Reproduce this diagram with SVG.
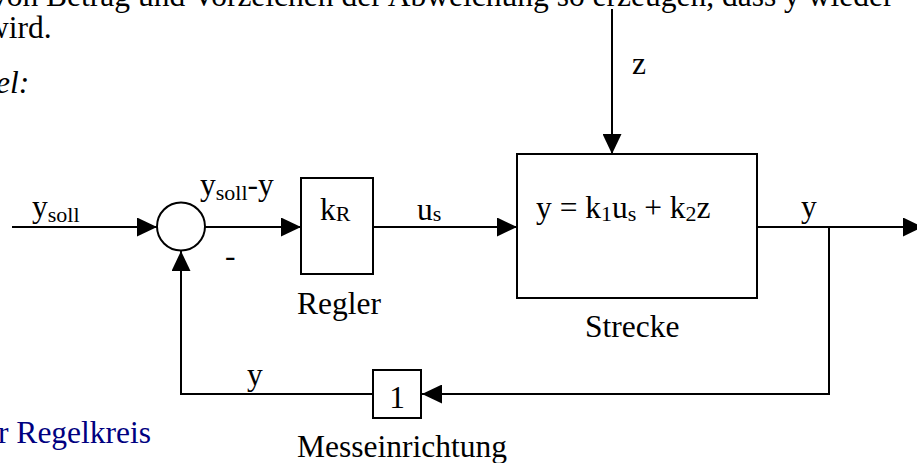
<svg xmlns="http://www.w3.org/2000/svg" width="917" height="463" viewBox="0 0 917 463">
<style>
text{font-family:"Liberation Serif","Times New Roman",serif;font-size:31.5px;fill:#000}
.sub{font-size:22px}
.blue{fill:#000080}
.box{fill:#fff;stroke:#000;stroke-width:2}
.ln{fill:none;stroke:#000;stroke-width:2}
</style>
<defs>
<marker id="ah" viewBox="0 0 20 19" refX="20" refY="9.5" markerWidth="20" markerHeight="19" markerUnits="userSpaceOnUse" orient="auto">
<path d="M0,0 L20,9.5 L0,19 Z" fill="#000"/>
</marker>
</defs>
<g id="context-text">
<text x="-12" y="6" font-size="32.5">Von Betrag und Vorzeichen der Abweichung so erzeugen, dass y wieder</text>
<text x="-14" y="38">wird.</text>
<text x="-4" y="93" font-style="italic">el:</text>
<text x="-2" y="443" class="blue">r Regelkreis</text>
</g>
<g id="connectors">
<line class="ln" x1="12" y1="227" x2="157" y2="227" marker-end="url(#ah)"/>
<line class="ln" x1="205" y1="227" x2="301" y2="227" marker-end="url(#ah)"/>
<line class="ln" x1="373" y1="227" x2="517" y2="227" marker-end="url(#ah)"/>
<line class="ln" x1="612" y1="9" x2="612" y2="154" marker-end="url(#ah)"/>
<line class="ln" x1="757" y1="227" x2="923" y2="227" marker-end="url(#ah)"/>
<polyline class="ln" points="829,227 829,394 422,394" marker-end="url(#ah)"/>
<polyline class="ln" points="373,394 181,394 181,251" marker-end="url(#ah)"/>
</g>
<g id="summing-point">
<circle cx="181" cy="226.5" r="24" class="box"/>
<text x="225" y="266">-</text>
</g>
<g id="regler">
<rect x="301" y="178" width="72" height="96" class="box"/>
<text x="320" y="220">k<tspan class="sub" dy="1">R</tspan></text>
<text x="297" y="314">Regler</text>
</g>
<g id="strecke">
<rect x="517" y="154" width="240" height="144" class="box"/>
<text x="536" y="218">y = k<tspan class="sub" dy="3">1</tspan><tspan dy="-3">u</tspan><tspan class="sub" dy="3">s</tspan><tspan dy="-3"> + k</tspan><tspan class="sub" dy="3">2</tspan><tspan dy="-3">z</tspan></text>
<text x="585" y="337">Strecke</text>
</g>
<g id="messeinrichtung">
<rect x="373" y="370" width="48" height="48" class="box"/>
<text x="397" y="408" text-anchor="middle">1</text>
<text x="297" y="457">Messeinrichtung</text>
</g>
<g id="labels">
<text x="32" y="217">y<tspan class="sub" dy="5">soll</tspan></text>
<text x="200" y="195">y<tspan class="sub" dy="5">soll</tspan><tspan dy="-5">-y</tspan></text>
<text x="417" y="220">u<tspan class="sub" dy="1">s</tspan></text>
<text x="632" y="74">z</text>
<text x="801" y="217">y</text>
<text x="247" y="385">y</text>
</g>
</svg>
